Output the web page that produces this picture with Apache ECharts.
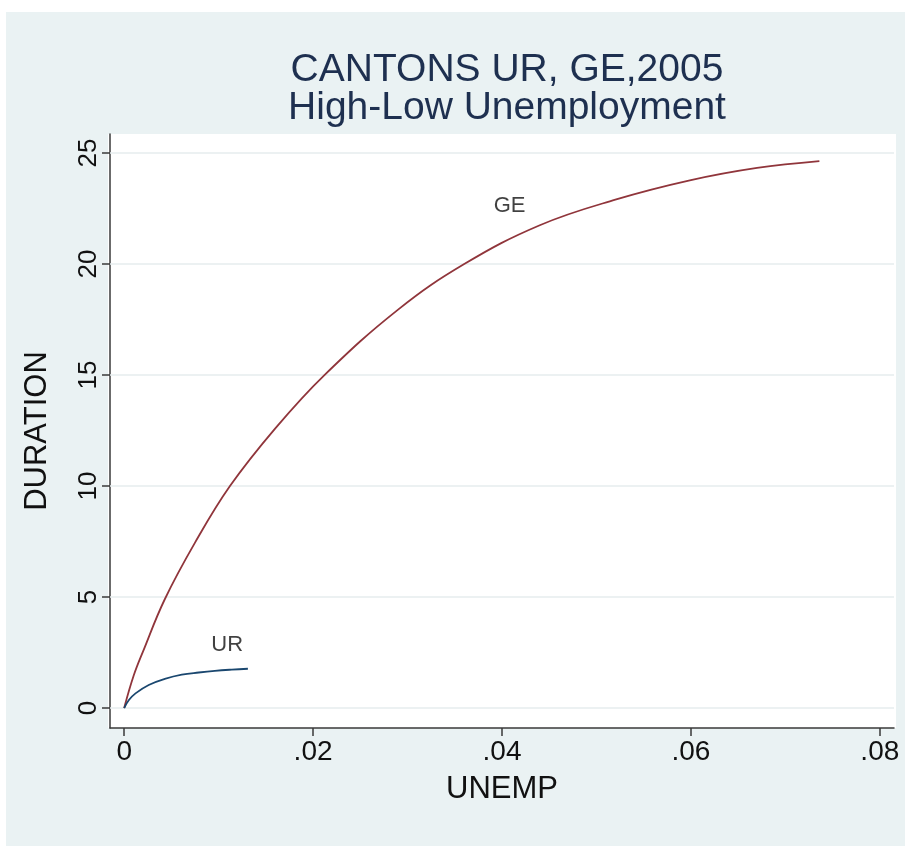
<!DOCTYPE html>
<html>
<head>
<meta charset="utf-8">
<script src="https://cdn.jsdelivr.net/npm/echarts@6/dist/echarts.min.js"></script>
<style>
html,body{margin:0;padding:0;background:#ffffff;}
#chart{position:absolute;left:0;top:0;width:905px;height:846px;}
</style>
</head>
<body>
<div id="chart"></div>
<script>
// ---- data ----
const titleLines = ['CANTONS UR, GE,2005', 'High-Low Unemployment'];
const xTicks = [0, 0.02, 0.04, 0.06, 0.08];
const yTicks = [0, 5, 10, 15, 20, 25];

const geX = [0, 0.0010, 0.0020, 0.0043, 0.0075, 0.0112, 0.0160, 0.0212, 0.0290, 0.0360, 0.0440, 0.0520, 0.0600, 0.0670, 0.0736];
const geY = [0, 1.45, 2.55, 4.90, 7.45, 10.00, 12.60, 15.00, 17.95, 20.00, 21.75, 22.90, 23.78, 24.33, 24.64];

const urX = [0, 0.0005, 0.0012, 0.0026, 0.0043, 0.0061, 0.0079, 0.0096, 0.0114, 0.0131];
const urY = [0, 0.36, 0.66, 1.04, 1.31, 1.50, 1.60, 1.675, 1.73, 1.77];

const labelNames = ['GE', 'UR'];
const labelX = [0.0408, 0.0109];
const labelY = [22.6, 2.84];

// ---- chart ----
const zip = (xs, ys) => xs.map((x, i) => [x, ys[i]]);
const fmtX = v => (v === 0 ? '0' : String(+v.toFixed(4)).replace(/^0\./, '.'));
const FONT = '"Liberation Sans", Arial, sans-serif';

const chart = echarts.init(document.getElementById('chart'), null, {renderer: 'canvas'});
chart.setOption({
  animation: false,
  backgroundColor: '#ffffff',
  graphic: [
    {type: 'rect', z: -10, silent: true, shape: {x: 6, y: 12, width: 899, height: 834}, style: {fill: '#eaf2f3'}},
    {type: 'rect', z: -9, silent: true, shape: {x: 108, y: 134, width: 788, height: 594}, style: {fill: '#ffffff'}}
  ],
  title: {
    text: titleLines.join('\n'),
    left: 502, top: 46, textAlign: 'center',
    textStyle: {fontFamily: FONT, fontSize: 39, fontWeight: 'normal', color: '#1e3050', lineHeight: 38}
  },
  grid: {left: 110, top: 134, right: 11, bottom: 118, containLabel: false},
  xAxis: {
    type: 'value', min: -0.0015, max: 0.0815,
    name: 'UNEMP', nameLocation: 'middle', nameGap: 46,
    nameTextStyle: {fontFamily: FONT, fontSize: 31, color: '#111'},
    axisLine: {show: true, onZero: false, lineStyle: {color: '#3a3a3a', width: 1.5}},
    axisTick: {show: true, length: 8, customValues: xTicks, lineStyle: {color: '#3a3a3a', width: 1.5}},
    axisLabel: {customValues: xTicks, formatter: fmtX, margin: 10, fontFamily: FONT, fontSize: 28, color: '#111'},
    splitLine: {show: false}
  },
  yAxis: {
    type: 'value', min: -0.9, max: 25.86,
    name: 'DURATION', nameLocation: 'middle', nameGap: 57, nameRotate: 90,
    nameTextStyle: {fontFamily: FONT, fontSize: 31, color: '#111'},
    axisLine: {show: true, onZero: false, lineStyle: {color: '#3a3a3a', width: 1.5}},
    axisTick: {show: true, length: 8, customValues: yTicks, lineStyle: {color: '#3a3a3a', width: 1.5}},
    axisLabel: {customValues: yTicks, rotate: 90, margin: 8, fontFamily: FONT, fontSize: 26, color: '#111'},
    splitLine: {show: false}
  },
  series: [
    {
      name: 'grid', type: 'line', data: [], silent: true, symbol: 'none', z: 1,
      markLine: {
        z: 1, silent: true, symbol: 'none', label: {show: false},
        lineStyle: {color: '#e6ecee', width: 1.5, type: 'solid'},
        data: yTicks.map(v => ({yAxis: v}))
      }
    },
    {
      name: 'GE', type: 'line', data: zip(geX, geY), symbol: 'none', smooth: 0.4,
      lineStyle: {color: '#90353b', width: 1.8}, z: 3
    },
    {
      name: 'UR', type: 'line', data: zip(urX, urY), symbol: 'none', smooth: 0.4,
      lineStyle: {color: '#1a476f', width: 1.8}, z: 3
    },
    {
      name: 'labels', type: 'scatter', symbolSize: 0, silent: true, z: 4,
      data: labelNames.map((n, i) => ({name: n, value: [labelX[i], labelY[i]]})),
      label: {show: true, position: 'inside', formatter: p => p.name, fontFamily: FONT, fontSize: 22, color: '#111'}
    }
  ]
});
</script>
</body>
</html>
